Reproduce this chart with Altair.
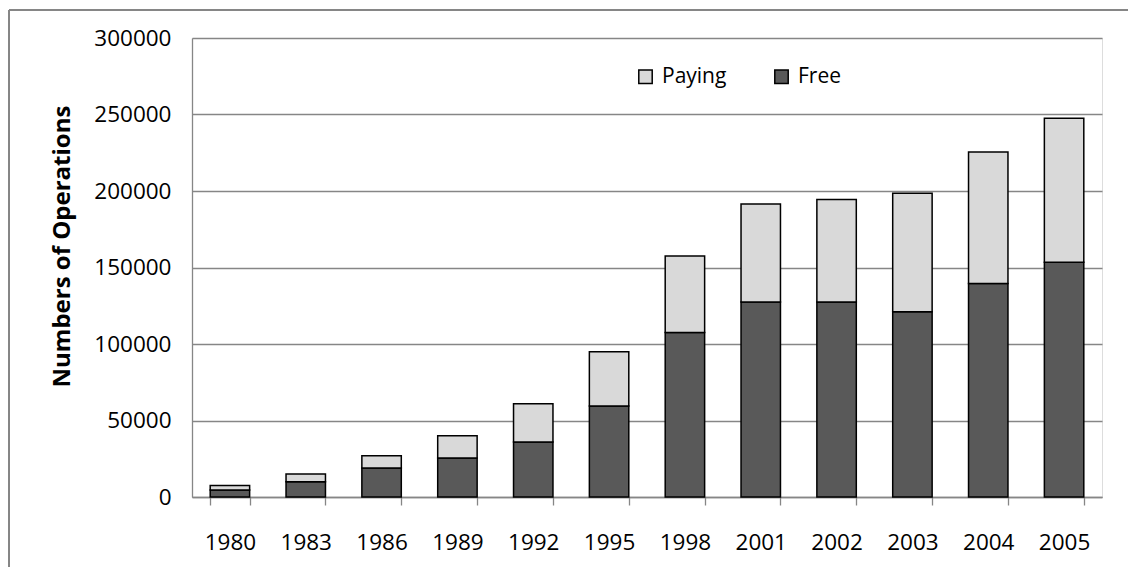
import altair as alt
import pandas as pd

years = ["1980", "1983", "1986", "1989", "1992", "1995", "1998", "2001", "2002", "2003", "2004", "2005"]
free = [4500, 10000, 19000, 25500, 36000, 59500, 107500, 127500, 127500, 121000, 139500, 153500]
paying = [3000, 5000, 8000, 14500, 25000, 35500, 50000, 64000, 67000, 77500, 86000, 94000]
series = ["Paying", "Free"]
colors = ["#d9d9d9", "#595959"]
y_ticks = [0, 50000, 100000, 150000, 200000, 250000, 300000]

rows = []
for i, yr in enumerate(years):
    rows.append({"year": yr, "series": "Free", "value": free[i], "ord": 0})
    rows.append({"year": yr, "series": "Paying", "value": paying[i], "ord": 1})
df = pd.DataFrame(rows)

FONT = "Open Sans"
GRID = "#868686"

bars = alt.Chart(df).mark_bar(stroke="black", strokeWidth=1.5).encode(
    x=alt.X("year:N", sort=years,
            scale=alt.Scale(paddingInner=0.48, paddingOuter=0.24),
            axis=alt.Axis(title=None, labelAngle=0, tickBand="extent", tickSize=8,
                          tickColor=GRID, tickWidth=1.3, domainColor=GRID, domainWidth=1.3,
                          labelPadding=26, labelFontSize=22.5, labelFont=FONT,
                          labelColor="black", grid=False)),
    y=alt.Y("value:Q", stack="zero",
            scale=alt.Scale(domain=[0, 300000], nice=False),
            axis=alt.Axis(title="Numbers of Operations", values=y_ticks, format="d",
                          ticks=False, labelPadding=21, labelFontSize=22.5, labelFont=FONT,
                          labelColor="black", domainColor=GRID, domainWidth=1.3,
                          gridColor=GRID, gridWidth=1.3,
                          titleFont=FONT, titleFontSize=24, titleFontWeight="bold",
                          titleColor="black", titleX=-130, titleY=208,
                          titleAlign="center", titleBaseline="middle", titleAngle=-90)),
    color=alt.Color("series:N", scale=alt.Scale(domain=series, range=colors),
                    legend=alt.Legend(title=None, orient="none", legendX=443, legendY=28,
                                      direction="horizontal", symbolType="square",
                                      symbolSize=180, symbolStrokeColor="black",
                                      symbolStrokeWidth=1.5, labelFont=FONT,
                                      labelFontSize=21, labelColor="black",
                                      labelOffset=6, columnPadding=44)),
    order=alt.Order("ord:Q"),
)

frame_left = alt.Chart(df).mark_rule(color=GRID, strokeWidth=1.3).encode(
    x=alt.value(-183), y=alt.value(-28), y2=alt.value(540))
frame_top = alt.Chart(df).mark_rule(color=GRID, strokeWidth=1.3).encode(
    x=alt.value(-183), x2=alt.value(950), y=alt.value(-28))

chart = alt.layer(frame_left, frame_top, bars).properties(
    width=910, height=459,
    autosize=alt.AutoSizeParams(type="none"),
    padding={"left": 184, "top": 30, "right": 26, "bottom": 70},
).configure_view(stroke=GRID, strokeWidth=1.3).configure(background="white")

chart.save("out.html", embed_options={"renderer": "svg", "actions": False})
